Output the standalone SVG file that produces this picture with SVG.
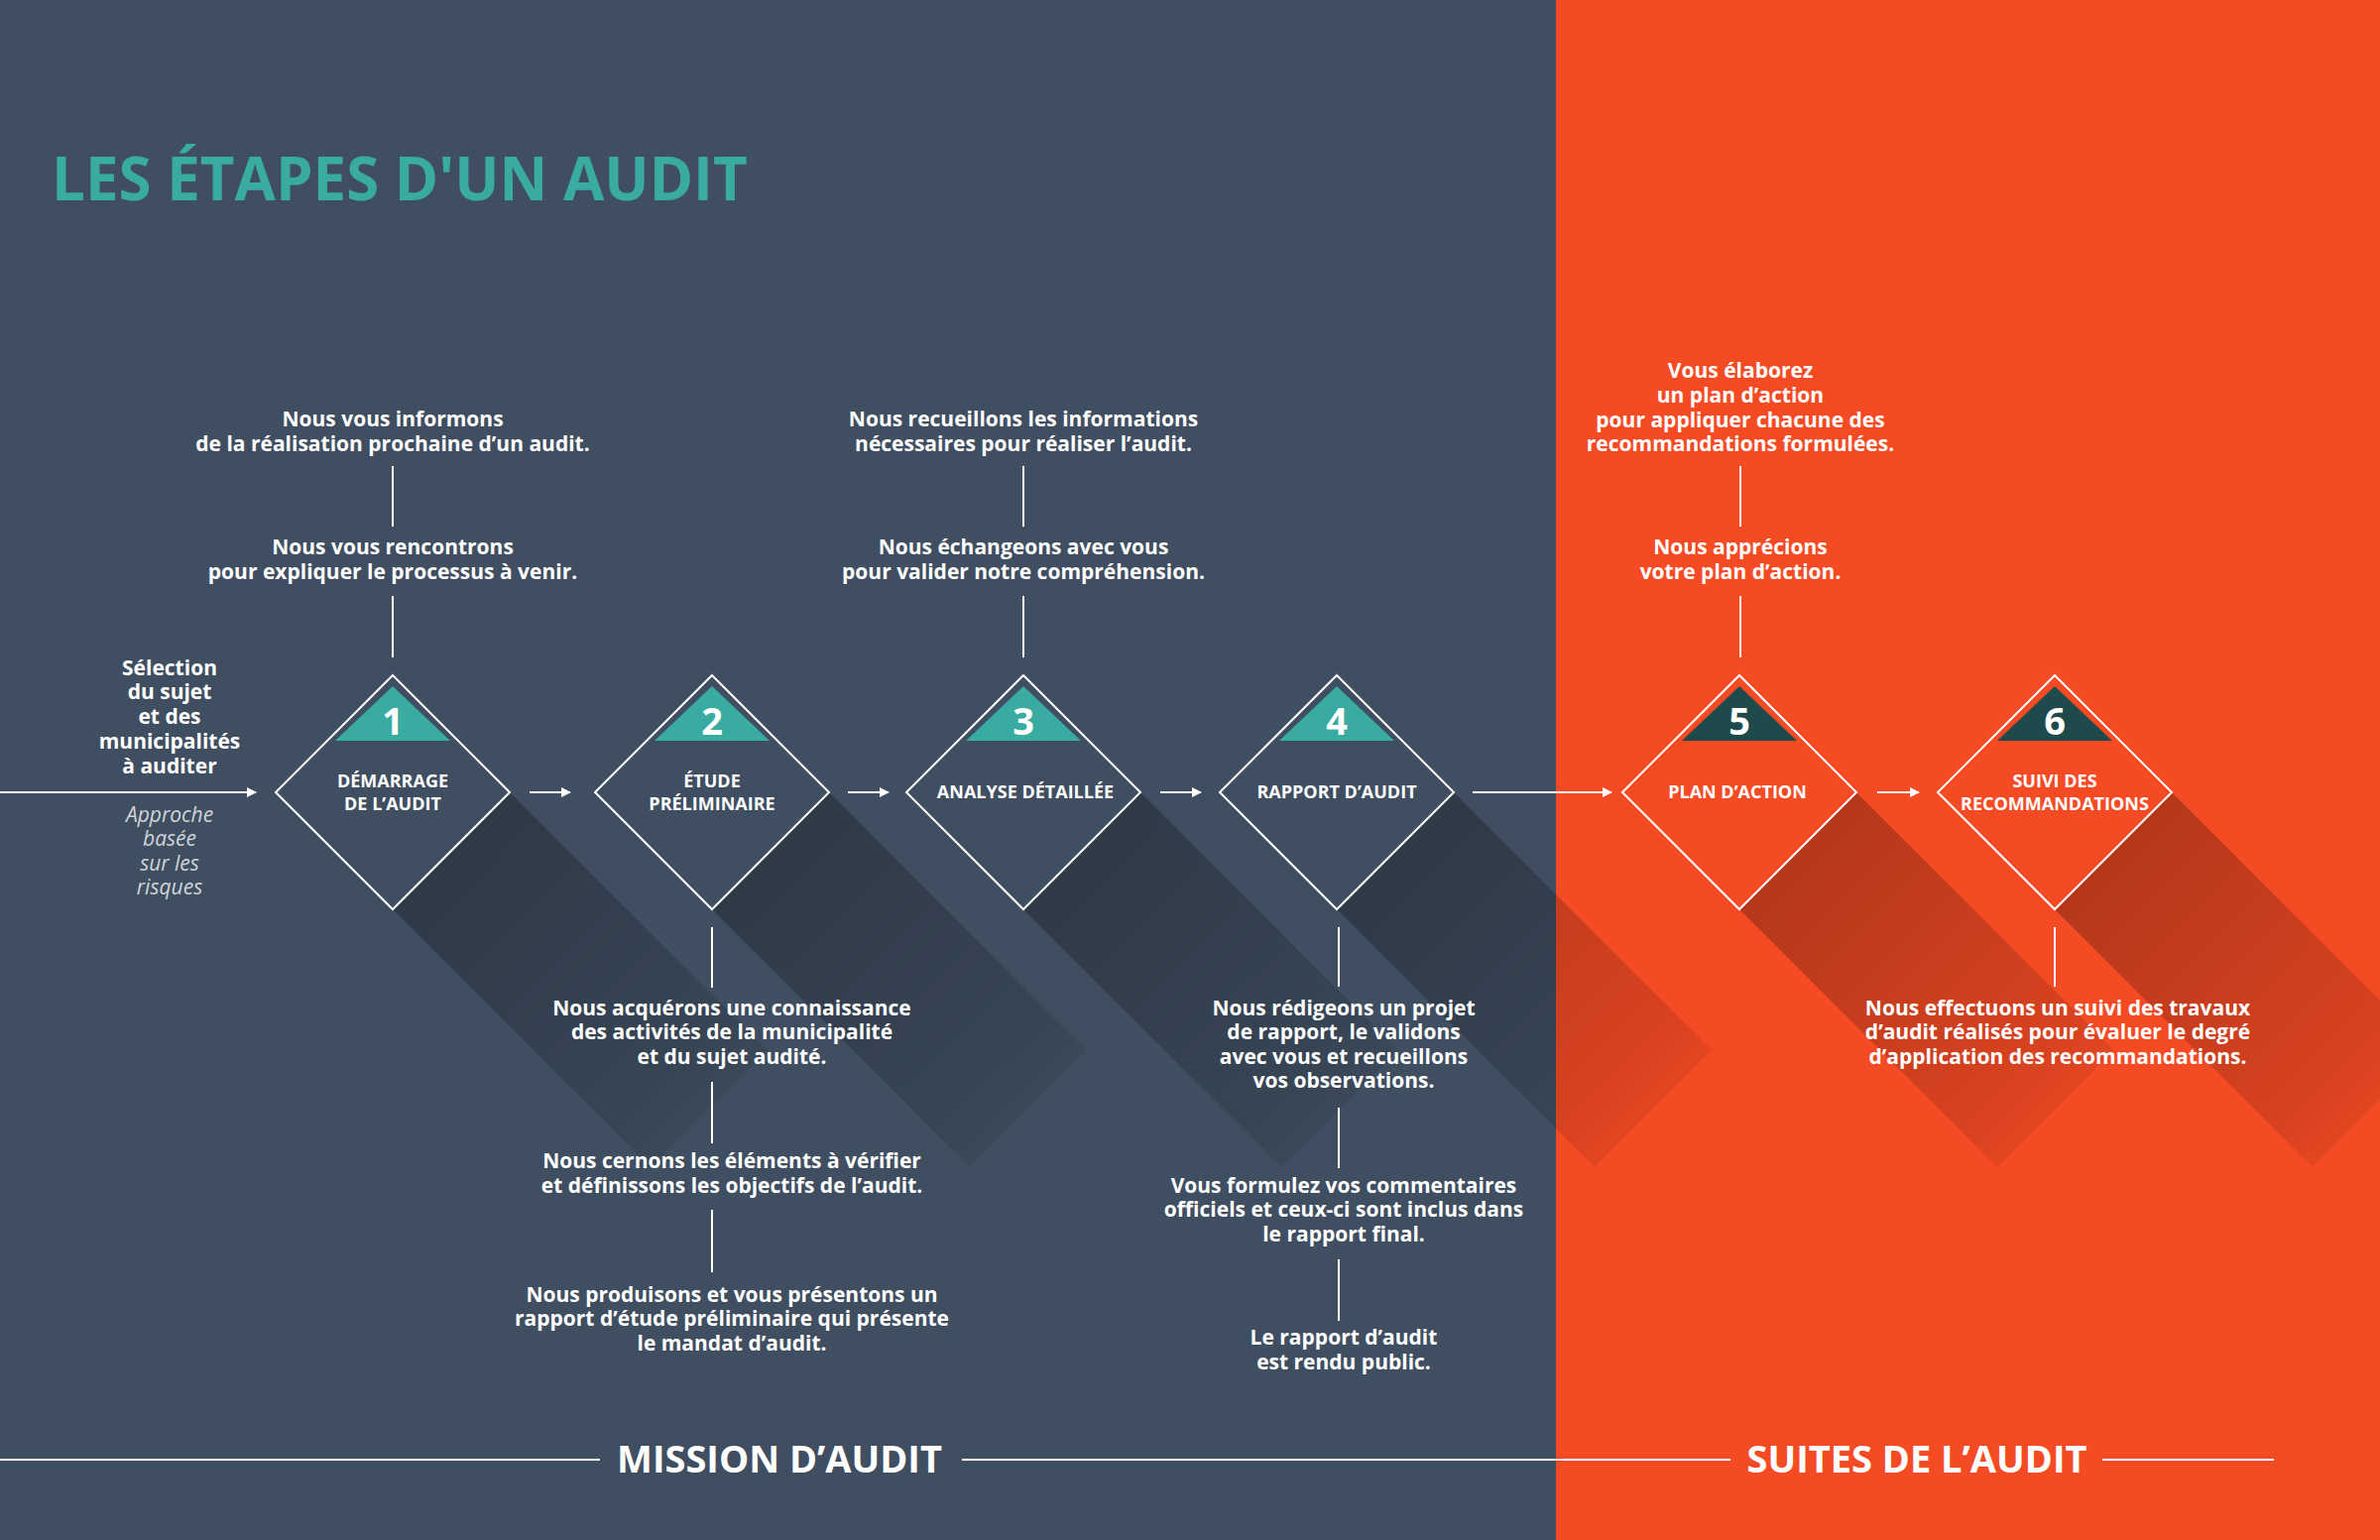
<svg xmlns="http://www.w3.org/2000/svg" width="2400" height="1553" viewBox="0 0 2400 1553">
<defs>
<linearGradient id="sh" x1="0" y1="0" x2="1" y2="1"><stop offset="0" stop-color="#000" stop-opacity="0.3"/><stop offset="0.75" stop-color="#000" stop-opacity="0.12"/><stop offset="1" stop-color="#000" stop-opacity="0"/></linearGradient>
<marker id="ah" viewBox="0 0 10 10" refX="9" refY="5" markerWidth="10" markerHeight="10" markerUnits="userSpaceOnUse" orient="auto"><path d="M0,0 L10,5 L0,10 z" fill="#fff"/></marker>
<style>
.t{font-family:"Open Sans","Liberation Sans",sans-serif;font-weight:700;font-size:21px;fill:#fff;text-anchor:middle}
.it{font-family:"Open Sans","Liberation Sans",sans-serif;font-style:italic;font-size:21px;fill:#d0d4da;text-anchor:middle}
.lbl{font-family:"Open Sans","Liberation Sans",sans-serif;font-weight:700;font-size:18px;fill:#fff;text-anchor:middle}
.num{font-family:"Open Sans","Liberation Sans",sans-serif;font-weight:700;font-size:38px;fill:#fff;text-anchor:middle}
.dm{fill:none;stroke:#fff;stroke-width:2}
.ln{stroke:#fff;stroke-width:2;fill:none}
.ar{stroke:#fff;stroke-width:2;fill:none;marker-end:url(#ah)}
.sec{font-family:"Open Sans","Liberation Sans",sans-serif;font-weight:700;font-size:38px;fill:#fff;text-anchor:middle}
</style>
</defs>
<rect width="2400" height="1553" fill="#3f4e60"/>
<rect x="1569" width="831" height="1553" fill="#f54b24"/>
<text x="52" y="202" font-family="'Open Sans','Liberation Sans',sans-serif" font-weight="700" font-size="60" fill="#39aba1">LES ÉTAPES D'UN AUDIT</text>
<g id="shadows">
<polygon points="514,799 396,917 656,1177 774,1059" fill="url(#sh)"/>
<polygon points="836,799 718,917 978,1177 1096,1059" fill="url(#sh)"/>
<polygon points="1150,799 1032,917 1292,1177 1410,1059" fill="url(#sh)"/>
<polygon points="1466,799 1348,917 1608,1177 1726,1059" fill="url(#sh)"/>
<polygon points="1872,799 1754,917 2014,1177 2132,1059" fill="url(#sh)"/>
<polygon points="2190,799 2072,917 2332,1177 2450,1059" fill="url(#sh)"/>
</g>
<g id="connectors">
<line class="ar" x1="0" y1="799" x2="258" y2="799"/>
<line class="ar" x1="534" y1="799" x2="575" y2="799"/>
<line class="ar" x1="855" y1="799" x2="896" y2="799"/>
<line class="ar" x1="1170" y1="799" x2="1211" y2="799"/>
<line class="ar" x1="1485" y1="799" x2="1625" y2="799"/>
<line class="ar" x1="1893" y1="799" x2="1935" y2="799"/>
<line class="ln" x1="396" y1="470" x2="396" y2="531"/>
<line class="ln" x1="396" y1="601" x2="396" y2="663"/>
<line class="ln" x1="1032" y1="470" x2="1032" y2="531"/>
<line class="ln" x1="1032" y1="601" x2="1032" y2="663"/>
<line class="ln" x1="1755" y1="470" x2="1755" y2="531"/>
<line class="ln" x1="1755" y1="601" x2="1755" y2="663"/>
<line class="ln" x1="718" y1="935" x2="718" y2="996"/>
<line class="ln" x1="718" y1="1091" x2="718" y2="1153"/>
<line class="ln" x1="718" y1="1220" x2="718" y2="1283"/>
<line class="ln" x1="1350" y1="935" x2="1350" y2="995"/>
<line class="ln" x1="1350" y1="1117" x2="1350" y2="1178"/>
<line class="ln" x1="1350" y1="1270" x2="1350" y2="1332"/>
<line class="ln" x1="2072" y1="935" x2="2072" y2="995"/>
<line class="ln" x1="0" y1="1472" x2="605" y2="1472"/>
<line class="ln" x1="970" y1="1472" x2="1745" y2="1472"/>
<line class="ln" x1="2120" y1="1472" x2="2293" y2="1472"/>
</g>
<g id="n1"><polygon class="dm" points="396,681 514,799 396,917 278,799"/><polygon points="396,692 454,747 338,747" fill="#39aba1"/><text class="num" x="396" y="741">1</text><text class="lbl" x="396" y="794">DÉMARRAGE</text><text class="lbl" x="396" y="817">DE L’AUDIT</text></g>
<g id="n2"><polygon class="dm" points="718,681 836,799 718,917 600,799"/><polygon points="718,692 776,747 660,747" fill="#39aba1"/><text class="num" x="718" y="741">2</text><text class="lbl" x="718" y="794">ÉTUDE</text><text class="lbl" x="718" y="817">PRÉLIMINAIRE</text></g>
<g id="n3"><polygon class="dm" points="1032,681 1150,799 1032,917 914,799"/><polygon points="1032,692 1090,747 974,747" fill="#39aba1"/><text class="num" x="1032" y="741">3</text><text class="lbl" x="1034" y="805">ANALYSE DÉTAILLÉE</text></g>
<g id="n4"><polygon class="dm" points="1348,681 1466,799 1348,917 1230,799"/><polygon points="1348,692 1406,747 1290,747" fill="#39aba1"/><text class="num" x="1348" y="741">4</text><text class="lbl" x="1348" y="805">RAPPORT D’AUDIT</text></g>
<g id="n5"><polygon class="dm" points="1754,681 1872,799 1754,917 1636,799"/><polygon points="1754,692 1812,747 1696,747" fill="#1f4a4c"/><text class="num" x="1754" y="741">5</text><text class="lbl" x="1752" y="805">PLAN D’ACTION</text></g>
<g id="n6"><polygon class="dm" points="2072,681 2190,799 2072,917 1954,799"/><polygon points="2072,692 2130,747 2014,747" fill="#1f4a4c"/><text class="num" x="2072" y="741">6</text><text class="lbl" x="2072" y="794">SUIVI DES</text><text class="lbl" x="2072" y="817">RECOMMANDATIONS</text></g>
<g id="texts">
<text class="t" x="396" y="430">Nous vous informons</text><text class="t" x="396" y="455">de la réalisation prochaine d’un audit.</text>
<text class="t" x="396" y="559">Nous vous rencontrons</text><text class="t" x="396" y="584">pour expliquer le processus à venir.</text>
<text class="t" x="1032" y="430">Nous recueillons les informations</text><text class="t" x="1032" y="455">nécessaires pour réaliser l’audit.</text>
<text class="t" x="1032" y="559">Nous échangeons avec vous</text><text class="t" x="1032" y="584">pour valider notre compréhension.</text>
<text class="t" x="1755" y="381">Vous élaborez</text><text class="t" x="1755" y="406">un plan d’action</text><text class="t" x="1755" y="431">pour appliquer chacune des</text><text class="t" x="1755" y="455">recommandations formulées.</text>
<text class="t" x="1755" y="559">Nous apprécions</text><text class="t" x="1755" y="584">votre plan d’action.</text>
<text class="t" x="171" y="681">Sélection</text><text class="t" x="171" y="705">du sujet</text><text class="t" x="171" y="730">et des</text><text class="t" x="171" y="755">municipalités</text><text class="t" x="171" y="780">à auditer</text>
<text class="it" x="171" y="829">Approche</text><text class="it" x="171" y="853">basée</text><text class="it" x="171" y="878">sur les</text><text class="it" x="171" y="902">risques</text>
<text class="t" x="738" y="1024">Nous acquérons une connaissance</text><text class="t" x="738" y="1048">des activités de la municipalité</text><text class="t" x="738" y="1073">et du sujet audité.</text>
<text class="t" x="738" y="1178">Nous cernons les éléments à vérifier</text><text class="t" x="738" y="1203">et définissons les objectifs de l’audit.</text>
<text class="t" x="738" y="1313">Nous produisons et vous présentons un</text><text class="t" x="738" y="1337">rapport d’étude préliminaire qui présente</text><text class="t" x="738" y="1362">le mandat d’audit.</text>
<text class="t" x="1355" y="1024">Nous rédigeons un projet</text><text class="t" x="1355" y="1048">de rapport, le validons</text><text class="t" x="1355" y="1073">avec vous et recueillons</text><text class="t" x="1355" y="1097">vos observations.</text>
<text class="t" x="1355" y="1203">Vous formulez vos commentaires</text><text class="t" x="1355" y="1227">officiels et ceux-ci sont inclus dans</text><text class="t" x="1355" y="1252">le rapport final.</text>
<text class="t" x="1355" y="1356">Le rapport d’audit</text><text class="t" x="1355" y="1381">est rendu public.</text>
<text class="t" x="2075" y="1024">Nous effectuons un suivi des travaux</text><text class="t" x="2075" y="1048">d’audit réalisés  pour évaluer le degré</text><text class="t" x="2075" y="1073">d’application des recommandations.</text>
<text class="sec" x="786" y="1485">MISSION D’AUDIT</text>
<text class="sec" x="1933" y="1485">SUITES DE L’AUDIT</text>
</g>
</svg>
